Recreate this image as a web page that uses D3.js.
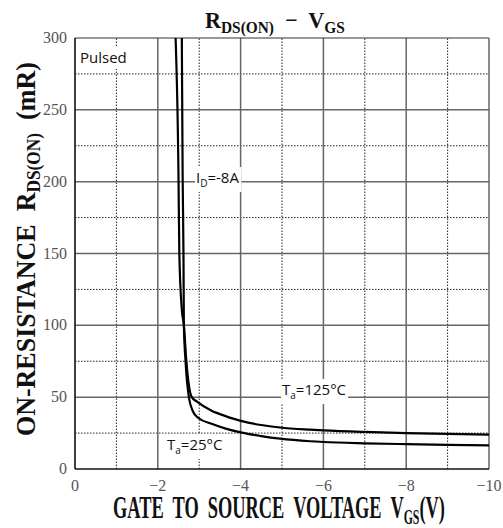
<!DOCTYPE html>
<html>
<head>
<meta charset="utf-8">
<script src="https://cdn.jsdelivr.net/npm/d3@7"></script>
<style>
  body { margin: 0; background: #fff; }
  svg { display: block; }
</style>
</head>
<body>
<svg id="chart" width="503" height="528"></svg>
<script>
// Data (VGS in volts, RDS(on) in mR)
const xTicks = [0, -2, -4, -6, -8, -10];
const xMinor = [-1, -3, -5, -7, -9];
const yTicks = [0, 50, 100, 150, 200, 250, 300];
const yMinor = [25, 75, 125, 175, 225, 275];

const vgs125 = [-2.43, -2.50, -2.52, -2.58, -2.63, -2.69, -2.82, -2.94, -3.30, -3.62, -4.03, -4.50, -4.95, -5.68, -6.0, -7.0, -8.0, -9.0, -10.0];
const rds125 = [300, 204, 150, 111, 100, 75, 50, 47, 40.5, 37.0, 33.3, 30.6, 28.9, 27.4, 26.9, 25.8, 25.0, 24.4, 23.9];

const vgs25 = [-2.58, -2.60, -2.62, -2.63, -2.67, -2.75, -2.85, -2.98, -3.30, -3.62, -4.03, -4.50, -4.95, -5.68, -6.0, -7.0, -8.0, -9.0, -10.0];
const rds25 = [300, 204, 150, 100, 75, 50, 40, 35.5, 31.5, 28.3, 25.3, 22.9, 21.1, 19.3, 18.8, 17.9, 17.3, 16.8, 16.4];

const margin = { left: 75, right: 14, top: 38, bottom: 59 };
const width = 503, height = 528;

const svg = d3.select("#chart");

const x = d3.scaleLinear().domain([0, -10]).range([margin.left, width - margin.right]);
const y = d3.scaleLinear().domain([0, 300]).range([height - margin.bottom, margin.top]);

const grid = svg.append("g");

// dotted minor grid
grid.selectAll(".xminor").data(xMinor).enter().append("line")
    .attr("x1", d => x(d)).attr("x2", d => x(d))
    .attr("y1", y(0)).attr("y2", y(300))
    .attr("stroke", "#222").attr("stroke-width", 1)
    .attr("stroke-dasharray", "1.5,1.5");
grid.selectAll(".yminor").data(yMinor).enter().append("line")
    .attr("x1", x(0)).attr("x2", x(-10))
    .attr("y1", d => y(d)).attr("y2", d => y(d))
    .attr("stroke", "#222").attr("stroke-width", 1)
    .attr("stroke-dasharray", "1.5,1.5");

// solid major grid
grid.selectAll(".xmajor").data(xTicks.slice(1, -1)).enter().append("line")
    .attr("x1", d => x(d)).attr("x2", d => x(d))
    .attr("y1", y(0)).attr("y2", y(300))
    .attr("stroke", "#666").attr("stroke-width", 1.5);
grid.selectAll(".ymajor").data(yTicks.slice(1, -1)).enter().append("line")
    .attr("x1", x(0)).attr("x2", x(-10))
    .attr("y1", d => y(d)).attr("y2", d => y(d))
    .attr("stroke", "#666").attr("stroke-width", 1.5);

// frame
svg.append("line").attr("x1", x(0)).attr("x2", x(-10)).attr("y1", y(300)).attr("y2", y(300))
    .attr("stroke", "#333").attr("stroke-width", 1.2);
svg.append("line").attr("x1", x(-10)).attr("x2", x(-10)).attr("y1", y(0)).attr("y2", y(300))
    .attr("stroke", "#666").attr("stroke-width", 1.5);
svg.append("line").attr("x1", x(0)).attr("x2", x(0)).attr("y1", y(0)).attr("y2", y(300))
    .attr("stroke", "#111").attr("stroke-width", 1.6);
svg.append("line").attr("x1", x(0)).attr("x2", x(-10)).attr("y1", y(0)).attr("y2", y(0))
    .attr("stroke", "#111").attr("stroke-width", 1.6);

// tick labels
const tickFont = "'Liberation Serif', 'DejaVu Serif', serif";
svg.selectAll(".ylab").data(yTicks).enter().append("text")
    .attr("x", x(0) - 8).attr("y", d => y(d) + 5)
    .attr("text-anchor", "end")
    .attr("font-family", tickFont).attr("font-size", 16).attr("fill", "#555")
    .text(d => d);
svg.selectAll(".xlab").data(xTicks).enter().append("text")
    .attr("x", d => x(d)).attr("y", y(0) + 22)
    .attr("text-anchor", "middle")
    .attr("font-family", tickFont).attr("font-size", 16).attr("fill", "#555")
    .text(d => d === 0 ? "0" : "\u2212" + Math.abs(d));

// curves
const line = d3.line()
    .x(d => x(d[0]))
    .y(d => y(d[1]))
    .curve(d3.curveMonotoneX);

const pts125 = vgs125.map((v, i) => [v, rds125[i]]);
const pts25 = vgs25.map((v, i) => [v, rds25[i]]);

svg.append("path").datum(pts125).attr("d", line)
    .attr("fill", "none").attr("stroke", "#000").attr("stroke-width", 2.2);
svg.append("path").datum(pts25).attr("d", line)
    .attr("fill", "none").attr("stroke", "#000").attr("stroke-width", 2.2);

// annotations
const sans = "'Open Sans', 'Noto Sans', sans-serif";
function label(tx, ty, main, sub, rest) {
    const g = svg.append("g");
    const t = g.append("text")
        .attr("x", tx).attr("y", ty)
        .attr("font-family", sans).attr("font-size", 15).attr("fill", "#111");
    t.append("tspan").text(main);
    if (sub) {
        t.append("tspan").attr("font-size", 10).attr("dy", 4).text(sub);
        t.append("tspan").attr("dy", -4).text(rest);
    }
    const b = t.node().getBBox();
    g.insert("rect", "text")
        .attr("x", b.x - 1).attr("y", b.y)
        .attr("width", b.width + 3).attr("height", b.height + 2)
        .attr("fill", "#fff");
}
label(80, 63, "Pulsed");
label(196, 183, "I", "D", "=-8A");
label(282, 395, "T", "a", "=125\u00b0C");
label(167, 450, "T", "a", "=25\u00b0C");

// condensed serif titles: draw at natural width, then squeeze to the target width
const titleFont = "'Liberation Serif', 'DejaVu Serif', serif";
function squeezed(parts, size, subSize, px, py, targetW, rotate) {
    const g = svg.append("g");
    const inner = g.append("g");
    const t = inner.append("text")
        .attr("font-family", titleFont).attr("font-size", size)
        .attr("font-weight", "bold").attr("fill", "#111")
        .style("white-space", "pre");
    let shifted = false;
    parts.forEach(p => {
        const ts = t.append("tspan").text(p.t);
        if (p.sub) ts.attr("font-size", subSize);
        if (p.sub && !shifted) { ts.attr("dy", size * 0.2); shifted = true; }
        else if (!p.sub && shifted) { ts.attr("dy", -size * 0.2); shifted = false; }
    });
    const b = t.node().getBBox();
    const s = targetW / b.width;
    inner.attr("transform", `scale(${s},1) translate(${-b.x - b.width / 2},0)`);
    // (px, py) is the centre of the baseline
    g.attr("transform", `translate(${px},${py})` + (rotate ? " rotate(-90)" : ""));
}

squeezed([{ t: "R" }, { t: "DS(ON)", sub: true }, { t: "  \u2212  V" }, { t: "GS", sub: true }],
    23, 16, 275, 28, 140, false);
squeezed([{ t: "GATE  TO  SOURCE  VOLTAGE  V" }, { t: "GS", sub: true }, { t: "(V)" }],
    31, 20, 279, 518, 332, false);
squeezed([{ t: "ON-RESISTANCE  R" }, { t: "DS(ON)", sub: true }, { t: "  (mR)" }],
    27, 18, 35, 249, 374, true);
</script>
</body>
</html>
